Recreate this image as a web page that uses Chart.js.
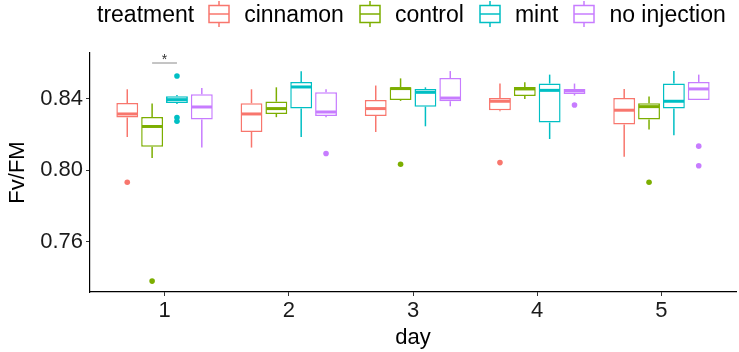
<!DOCTYPE html>
<html>
<head>
<meta charset="utf-8">
<script src="https://cdn.jsdelivr.net/npm/chart.js@4.4.1/dist/chart.umd.min.js"></script>
<style>
html,body{margin:0;padding:0;background:#fff;}
#wrap{position:relative;width:739px;height:352px;overflow:hidden;}
#chart{position:absolute;left:0;top:0;}
#legend{position:absolute;top:1px;left:97px;height:26px;display:flex;align-items:center;font-family:"Liberation Sans",Arial,sans-serif;font-size:23px;color:#000;white-space:nowrap;}
#legend .ttl{margin-right:14px;}
#legend svg{display:block;margin-right:14px;}
#legend .lab{margin-right:15px;}
</style>
</head>
<body>
<div id="wrap">
<canvas id="chart" width="739" height="352"></canvas>
<div id="legend"></div>
</div>
<script>
// ---- data ----
const days = [1, 2, 3, 4, 5];
const treatments = ['cinnamon', 'control', 'mint', 'no injection'];
const colors = ['#F8766D', '#7CAE00', '#00BFC4', '#C77CFF'];
const yTickValues = [0.76, 0.80, 0.84];

const cinnamonMin = [0.8185, 0.8126, 0.8213, 0.8329, 0.8074];
const cinnamonQ1 = [0.8294, 0.8213, 0.8303, 0.8335, 0.8255];
const cinnamonMedian = [0.8314, 0.8314, 0.8344, 0.8385, 0.8335];
const cinnamonQ3 = [0.8375, 0.8374, 0.8392, 0.8403, 0.8403];
const cinnamonMax = [0.8452, 0.8452, 0.8473, 0.8484, 0.8454];
const cinnamonOutliers = [[0.7932], [], [], [0.8042], []];

const controlMin = [0.8067, 0.8296, 0.8387, 0.8398, 0.8227];
const controlQ1 = [0.8130, 0.8314, 0.8392, 0.8415, 0.8283];
const controlMedian = [0.8244, 0.8344, 0.8456, 0.8454, 0.8355];
const controlQ3 = [0.8297, 0.8383, 0.8463, 0.8465, 0.8374];
const controlMax = [0.8372, 0.8463, 0.8513, 0.8491, 0.8411];
const controlOutliers = [[0.7379], [], [0.8033], [], [0.7932]];

const mintMin = [0.8370, 0.8185, 0.8245, 0.8174, 0.8195];
const mintQ1 = [0.8375, 0.8344, 0.8355, 0.8266, 0.8344];
const mintMedian = [0.8394, 0.8465, 0.8435, 0.8446, 0.8385];
const mintQ3 = [0.8413, 0.8493, 0.8454, 0.8484, 0.8484];
const mintMax = [0.8420, 0.8553, 0.8463, 0.8534, 0.8554];
const mintOutliers = [[0.8526, 0.8294, 0.8273], [], [], [], []];

const noInjMin = [0.8126, 0.8296, 0.8357, 0.8417, 0.8392];
const noInjQ1 = [0.8283, 0.8303, 0.8385, 0.8426, 0.8392];
const noInjMedian = [0.8353, 0.8325, 0.8403, 0.8443, 0.8454];
const noInjQ3 = [0.8424, 0.8435, 0.8515, 0.8454, 0.8493];
const noInjMax = [0.8459, 0.8452, 0.8554, 0.8484, 0.8534];
const noInjOutliers = [[], [0.8093], [], [0.8364], [0.8134, 0.8024]];

// significance annotation (day 1, control vs mint)
const sigDay = 1;
const sigPair = [1, 2];
const sigValue = 0.8599;
const sigLabel = '*';

// ---- assemble ----
const stats = [
  {min: cinnamonMin, q1: cinnamonQ1, med: cinnamonMedian, q3: cinnamonQ3, max: cinnamonMax, out: cinnamonOutliers},
  {min: controlMin, q1: controlQ1, med: controlMedian, q3: controlQ3, max: controlMax, out: controlOutliers},
  {min: mintMin, q1: mintQ1, med: mintMedian, q3: mintQ3, max: mintMax, out: mintOutliers},
  {min: noInjMin, q1: noInjQ1, med: noInjMedian, q3: noInjQ3, max: noInjMax, out: noInjOutliers}
];

const FONT = '"Liberation Sans", Arial, sans-serif';

// HTML legend
const legend = document.getElementById('legend');
const ttl = document.createElement('span');
ttl.className = 'ttl';
ttl.textContent = 'treatment';
legend.appendChild(ttl);
treatments.forEach((t, k) => {
  const c = colors[k];
  const svgNS = 'http://www.w3.org/2000/svg';
  const svg = document.createElementNS(svgNS, 'svg');
  svg.setAttribute('width', '22');
  svg.setAttribute('height', '26');
  svg.innerHTML = '<line x1="11" y1="0" x2="11" y2="26" stroke="' + c + '" stroke-width="1.5"/>' +
    '<rect x="1" y="4.5" width="20" height="17" fill="#fff" stroke="' + c + '" stroke-width="1.5"/>' +
    '<line x1="1" y1="13" x2="21" y2="13" stroke="' + c + '" stroke-width="1.5"/>';
  legend.appendChild(svg);
  const lab = document.createElement('span');
  lab.className = 'lab';
  lab.textContent = t;
  legend.appendChild(lab);
});

const boxParts = {
  id: 'boxParts',
  afterDatasetsDraw(chart) {
    const ctx = chart.ctx;
    const ys = chart.scales.y;
    const line = (x1, y1, x2, y2) => { ctx.beginPath(); ctx.moveTo(x1, y1); ctx.lineTo(x2, y2); ctx.stroke(); };
    chart.data.datasets.forEach((ds, di) => {
      const meta = chart.getDatasetMeta(di);
      const st = stats[di];
      meta.data.forEach((bar, i) => {
        const p = bar.getProps(['x', 'width'], true);
        const x = p.x, w = p.width;
        ctx.save();
        ctx.strokeStyle = colors[di];
        ctx.lineWidth = 1.5;
        line(x, ys.getPixelForValue(st.q3[i]), x, ys.getPixelForValue(st.max[i]));
        line(x, ys.getPixelForValue(st.q1[i]), x, ys.getPixelForValue(st.min[i]));
        ctx.lineWidth = 3;
        const ym = ys.getPixelForValue(st.med[i]);
        line(x - w / 2 + 0.75, ym, x + w / 2 - 0.75, ym);
        ctx.fillStyle = colors[di];
        st.out[i].forEach(v => {
          ctx.beginPath();
          ctx.arc(x, ys.getPixelForValue(v), 2.8, 0, Math.PI * 2);
          ctx.fill();
        });
        ctx.restore();
      });
    });
    // significance bracket
    const di = days.indexOf(sigDay);
    const a = chart.getDatasetMeta(sigPair[0]).data[di].getProps(['x'], true).x;
    const b = chart.getDatasetMeta(sigPair[1]).data[di].getProps(['x'], true).x;
    const yy = ys.getPixelForValue(sigValue);
    ctx.save();
    ctx.strokeStyle = '#8a8a8a';
    ctx.lineWidth = 1;
    line(a, yy, b, yy);
    ctx.fillStyle = '#333';
    ctx.font = '14px ' + FONT;
    ctx.textAlign = 'center';
    ctx.textBaseline = 'alphabetic';
    ctx.fillText(sigLabel, (a + b) / 2, yy + 1);
    ctx.restore();
  }
};

const tickFont = {family: FONT, size: 22};

new Chart(document.getElementById('chart'), {
  type: 'bar',
  data: {
    datasets: treatments.map((t, k) => ({
      label: t,
      data: days.map((d, i) => ({x: d, y: [stats[k].q1[i], stats[k].q3[i]]})),
      backgroundColor: '#ffffff',
      borderColor: colors[k],
      borderWidth: 1.5,
      borderSkipped: false,
      categoryPercentage: 0.8,
      barPercentage: 0.88
    }))
  },
  options: {
    responsive: false,
    animation: false,
    layout: {padding: {top: 53, right: 3, left: 0, bottom: 0}},
    plugins: {legend: {display: false}, tooltip: {enabled: false}},
    scales: {
      x: {
        type: 'linear',
        min: 0.4,
        max: 5.6,
        offset: false,
        afterBuildTicks: s => { s.ticks = days.map(v => ({value: v})); },
        afterFit: s => { s.height = 60; },
        grid: {display: true, drawOnChartArea: false, offset: false, tickLength: 4, color: '#333', lineWidth: 1},
        border: {display: true, color: '#000', width: 1.2},
        ticks: {font: tickFont, color: '#1a1a1a', padding: 2, maxRotation: 0, autoSkip: false, callback: v => String(v)},
        title: {display: true, text: 'day', font: tickFont, color: '#000', padding: {top: 0, bottom: 1}}
      },
      y: {
        min: 0.7318,
        max: 0.8655,
        afterBuildTicks: s => { s.ticks = yTickValues.map(v => ({value: v})); },
        afterFit: s => { s.width = 90; },
        grid: {display: true, drawOnChartArea: false, tickLength: 4, color: '#333', lineWidth: 1},
        border: {display: true, color: '#000', width: 1.2},
        ticks: {font: tickFont, color: '#1a1a1a', padding: 3, autoSkip: false, callback: v => Number(v).toFixed(2)},
        title: {display: true, text: 'Fv/FM', font: tickFont, color: '#000', padding: {top: 4.5, bottom: 0}}
      }
    }
  },
  plugins: [boxParts]
});
</script>
</body>
</html>
